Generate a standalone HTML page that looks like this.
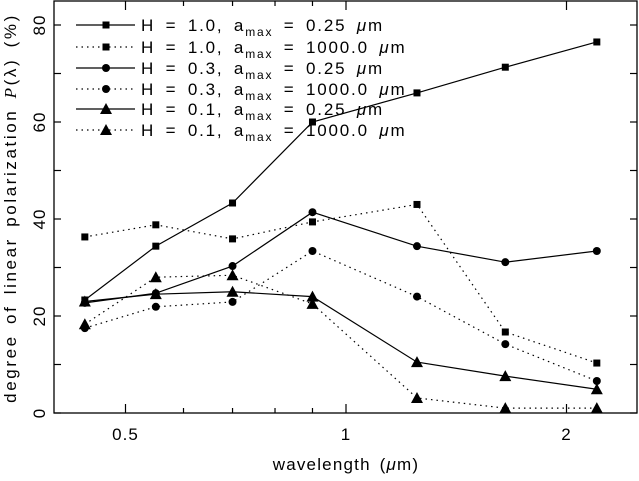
<!DOCTYPE html>
<html><head><meta charset="utf-8"><style>
html,body{margin:0;padding:0;background:#fff}
svg text{font-family:"Liberation Sans",sans-serif;fill:#000}
</style></head><body>
<svg id="chart" width="639" height="476" viewBox="0 0 639 476" xmlns="http://www.w3.org/2000/svg">
<rect x="54" y="1" width="583" height="412" fill="none" stroke="#000" stroke-width="1.3"/>
<g id="axes"></g>
<g id="series"></g>
<g id="legend"></g>
<text x="346" y="470" font-size="17" text-anchor="middle" letter-spacing="1.2" word-spacing="3">wavelength (<tspan font-style="italic">μ</tspan>m)</text>
<text transform="translate(16,208) rotate(-90)" font-size="17" text-anchor="middle" letter-spacing="2.6" word-spacing="3">degree of linear polarization <tspan font-family="Liberation Serif" font-style="italic">P</tspan>(λ) (%)</text>
</svg>
<script>
const wavelengths = [0.44, 0.55, 0.70, 0.90, 1.25, 1.65, 2.2];
const s1 = [23.3, 34.4, 43.3, 60.0, 66.0, 71.3, 76.5];
const s2 = [36.3, 38.8, 35.9, 39.4, 43.0, 16.7, 10.3];
const s3 = [22.7, 24.7, 30.3, 41.4, 34.4, 31.1, 33.4];
const s4 = [17.5, 21.9, 22.9, 33.4, 24.0, 14.2, 6.6];
const s5 = [23.0, 24.5, 25.0, 24.0, 10.5, 7.6, 4.9];
const s6 = [18.3, 28.0, 28.4, 22.5, 3.1, 1.0, 1.0];
const xMajor = [0.5, 1, 2];
const xMajorLabels = ["0.5", "1", "2"];
const xMinor = [0.6, 0.7, 0.8, 0.9];
const yTicks = [0, 10, 20, 30, 40, 50, 60, 70, 80];
const yLabels = [0, 20, 40, 60, 80];
const legendLabels = [["1.0","0.25"],["1.0","1000.0"],["0.3","0.25"],["0.3","1000.0"],["0.1","0.25"],["0.1","1000.0"]];

const NS = "http://www.w3.org/2000/svg";
const X = v => 346 + 220.5 * Math.log2(v);
const Y = v => 413 - 4.85 * v;
function mk(tag, attrs, parent){const e=document.createElementNS(NS,tag);for(const k in attrs)e.setAttribute(k,attrs[k]);parent.appendChild(e);return e;}
const axes = document.getElementById('axes');
xMajor.forEach((v,i)=>{
  let t=mk('line',{x1:X(v),x2:X(v),y1:413,y2:404,stroke:'#000','stroke-width':1.2},axes);
  
  
  t=mk('line',{x1:X(v),x2:X(v),y1:1,y2:10,stroke:'#000','stroke-width':1.2},axes);
  
  
  const l=mk('text',{x:X(v),y:440,'font-size':17,'text-anchor':'middle','letter-spacing':1},axes);
  l.textContent=xMajorLabels[i];
  
  
});
xMinor.forEach(v=>{
  let t=mk('line',{x1:X(v),x2:X(v),y1:413,y2:408,stroke:'#000','stroke-width':1.2},axes);
  
  
  t=mk('line',{x1:X(v),x2:X(v),y1:1,y2:6,stroke:'#000','stroke-width':1.2},axes);
  
  
});
yTicks.forEach(v=>{
  let t=mk('line',{x1:54,x2:61,y1:Y(v),y2:Y(v),stroke:'#000','stroke-width':1.2},axes);
  
  
  t=mk('line',{x1:630,x2:637,y1:Y(v),y2:Y(v),stroke:'#000','stroke-width':1.2},axes);
  
  
});
yLabels.forEach(v=>{
  const l=mk('text',{transform:`translate(45,${Y(v)}) rotate(-90)`,'font-size':17,'text-anchor':'middle','letter-spacing':1},axes);
  l.textContent=String(v);
  
  
});
function marker(type,x,y,parent){
  let m;
  if(type==='sq') m=mk('rect',{x:x-3.5,y:y-3.5,width:7,height:7,fill:'#000'},parent);
  else if(type==='ci') m=mk('circle',{cx:x,cy:y,r:4,fill:'#000'},parent);
  else m=mk('polygon',{points:`${x},${y-6} ${x-6},${y+5} ${x+6},${y+5}`,fill:'#000'},parent);
  
  
}
const seriesList=[[s1,'sq',false],[s2,'sq',true],[s3,'ci',false],[s4,'ci',true],[s5,'tr',false],[s6,'tr',true]];
const sg=document.getElementById('series');
seriesList.forEach(([vals,type,dot],i)=>{
  const g=mk('g',{},sg);
  
  
  const p=mk('polyline',{points:vals.map((v,j)=>X(wavelengths[j])+','+Y(v)).join(' '),fill:'none',stroke:'#000','stroke-width':1.2,'stroke-dasharray':dot?'1.5 4':'none'},g);
  
  
  vals.forEach((v,j)=>marker(type,X(wavelengths[j]),Y(v),g));
});
const lg=document.getElementById('legend');
const rowsY=[25,47,68,89,109,130];
seriesList.forEach(([vals,type,dot],i)=>{
  const g=mk('g',{},lg);
  
  
  const y=rowsY[i];
  mk('line',{x1:76,x2:135,y1:y,y2:y,stroke:'#000','stroke-width':1.2,'stroke-dasharray':dot?'1.5 4':'none'},g);
  marker(type,106,y,g);
  const t=mk('text',{x:141,y:y+6,'font-size':17,'letter-spacing':1.8,'word-spacing':4},g);
  t.innerHTML=`H = ${legendLabels[i][0]}, a<tspan font-size="12" dy="5">max</tspan><tspan dy="-5"> = ${legendLabels[i][1]} </tspan><tspan font-style="italic">μ</tspan>m`;
});
</script>
</body></html>
